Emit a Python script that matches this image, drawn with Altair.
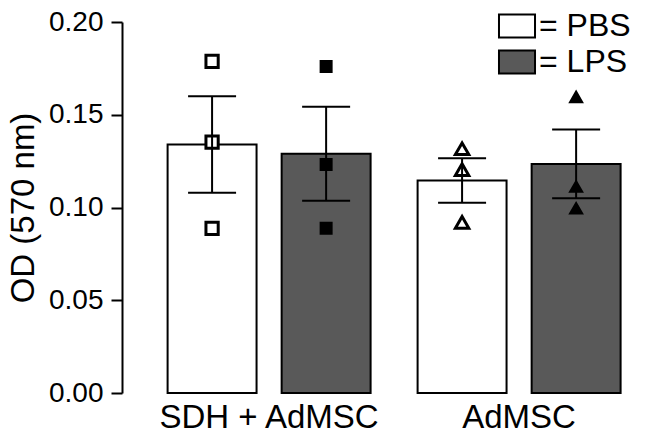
import altair as alt
import pandas as pd

groups = ["SDH + AdMSC", "SDH + AdMSC", "AdMSC", "AdMSC"]
treatments = ["PBS", "LPS", "PBS", "LPS"]
means = [0.134, 0.129, 0.1145, 0.1235]
sems = [0.026, 0.0253, 0.012, 0.0185]

pt_groups = ["SDH + AdMSC"] * 6 + ["AdMSC"] * 6
pt_treat = ["PBS"] * 3 + ["LPS"] * 3 + ["PBS"] * 3 + ["LPS"] * 3
pt_vals = [0.1788, 0.1353, 0.0888,
           0.176, 0.1232, 0.0888,
           0.1317, 0.1204, 0.092,
           0.1595, 0.1112, 0.0995]

group_order = ["SDH + AdMSC", "AdMSC"]
treat_order = ["PBS", "LPS"]
y_ticks = [0.0, 0.05, 0.10, 0.15, 0.20]

bars = pd.DataFrame({"group": groups, "treatment": treatments, "mean": means, "sem": sems})
bars["lo"] = bars["mean"] - bars["sem"]
bars["hi"] = bars["mean"] + bars["sem"]
pts = pd.DataFrame({"group": pt_groups, "treatment": pt_treat, "value": pt_vals})

FONT = "Liberation Sans"

x_enc = alt.X("group:N", scale=alt.Scale(domain=group_order, paddingInner=0.188,
                                          paddingOuter=0.114, align=0.8),
              axis=alt.Axis(title=None, labelAngle=0, domain=False, ticks=False,
                            labelFontSize=33, labelPadding=8, labelColor="black",
                            labelFont=FONT, labelLimit=0))
xo_enc = alt.XOffset("treatment:N", scale=alt.Scale(domain=treat_order, paddingInner=0.22,
                                                     paddingOuter=0))
y_scale = alt.Scale(domain=[0, 0.2], nice=False)

bar_layer = alt.Chart(bars).mark_bar(stroke="black", strokeWidth=2).encode(
    x=x_enc,
    xOffset=xo_enc,
    y=alt.Y("mean:Q", scale=y_scale,
            axis=alt.Axis(title="OD (570 nm)", values=y_ticks, format=".2f", grid=False,
                          domainColor="black", domainWidth=2, tickColor="black",
                          tickWidth=2, tickSize=11, labelFontSize=28, labelPadding=8,
                          labelColor="black", labelFont=FONT, titleFont=FONT,
                          titleFontSize=33, titleFontWeight="normal", titleColor="black",
                          titlePadding=8)),
    fill=alt.Fill("treatment:N", scale=alt.Scale(domain=treat_order, range=["white", "#595959"]),
                  legend=alt.Legend(title=None, orient="none", legendX=379, legendY=-12,
                                    symbolType="M-1.3,-0.83H1.3V0.83H-1.3Z", symbolSize=768,
                                    symbolStrokeColor="black", symbolStrokeWidth=2,
                                    labelFontSize=32, labelFont=FONT, labelColor="black",
                                    labelExpr="'= ' + datum.label", labelOffset=6,
                                    rowPadding=4, padding=0)),
)

size_rule = (alt.when("datum.treatment == 'PBS' && datum.group == 'AdMSC'").then(alt.value(180))
             .when("datum.treatment == 'PBS'").then(alt.value(150))
             .when("datum.group == 'AdMSC'").then(alt.value(110))
             .otherwise(alt.value(100)))

point_layer = alt.Chart(pts).mark_point(filled=False, strokeWidth=3, opacity=1).encode(
    x=alt.X("group:N", scale=alt.Scale(domain=group_order)),
    xOffset=alt.XOffset("treatment:N", scale=alt.Scale(domain=treat_order)),
    y=alt.Y("value:Q", scale=y_scale),
    shape=alt.Shape("group:N", scale=alt.Scale(domain=group_order, range=["square", "triangle-up"]),
                    legend=None),
    fill=alt.condition("datum.treatment == 'PBS'", alt.value("white"), alt.value("black")),
    stroke=alt.value("black"),
    size=size_rule,
)

err_rule = alt.Chart(bars).mark_rule(color="black", strokeWidth=2).encode(
    x=alt.X("group:N", scale=alt.Scale(domain=group_order)),
    xOffset=alt.XOffset("treatment:N", scale=alt.Scale(domain=treat_order)),
    y=alt.Y("lo:Q", scale=y_scale),
    y2="hi:Q",
)
cap_lo = alt.Chart(bars).mark_tick(color="black", thickness=2, size=48, opacity=1).encode(
    x=alt.X("group:N", scale=alt.Scale(domain=group_order)),
    xOffset=alt.XOffset("treatment:N", scale=alt.Scale(domain=treat_order)),
    y=alt.Y("lo:Q", scale=y_scale),
)
cap_hi = alt.Chart(bars).mark_tick(color="black", thickness=2, size=48, opacity=1).encode(
    x=alt.X("group:N", scale=alt.Scale(domain=group_order)),
    xOffset=alt.XOffset("treatment:N", scale=alt.Scale(domain=treat_order)),
    y=alt.Y("hi:Q", scale=y_scale),
)

chart = alt.layer(bar_layer, point_layer, err_rule, cap_lo, cap_hi).properties(
    width=510, height=371,
    autosize=alt.AutoSizeParams(type="none"),
    padding={"left": 114, "top": 14, "right": 5, "bottom": 36},
    background="white",
).configure_view(stroke=None)

chart.save("out.html", embed_options={"renderer": "svg", "actions": False})
